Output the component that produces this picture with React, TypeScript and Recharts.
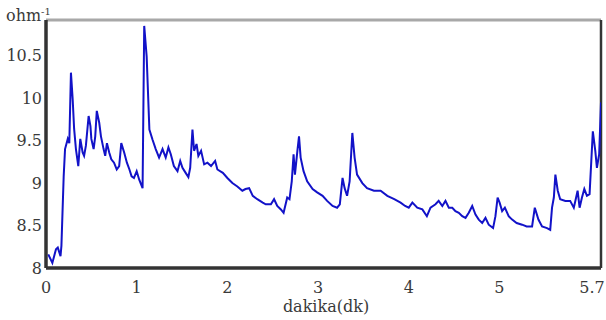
import React from 'react';
import { LineChart, Line, XAxis, YAxis, ReferenceLine } from 'recharts';

// time (dakika) and conductance (ohm^-1)
const timeMin = [
  0.025, 0.07, 0.11, 0.13, 0.16, 0.17, 0.195, 0.21, 0.24, 0.257, 0.275, 0.294, 0.31, 0.33, 0.356, 0.378,
  0.404, 0.42, 0.44, 0.47, 0.49, 0.5, 0.525, 0.543, 0.56, 0.587, 0.606, 0.635, 0.653, 0.672, 0.697, 0.72,
  0.75, 0.78, 0.807, 0.83, 0.862, 0.892, 0.92, 0.944, 0.97, 1.0, 1.028, 1.065, 1.083, 1.11, 1.14, 1.175,
  1.21, 1.247, 1.285, 1.32, 1.35, 1.376, 1.41, 1.45, 1.48, 1.505, 1.54, 1.57, 1.59, 1.615, 1.633, 1.66,
  1.68, 1.71, 1.744, 1.78, 1.82, 1.865, 1.89, 1.95, 2.0, 2.055, 2.11, 2.165, 2.2, 2.24, 2.28, 2.33,
  2.39, 2.423, 2.48, 2.515, 2.55, 2.59, 2.62, 2.66, 2.685, 2.71, 2.73, 2.745, 2.772, 2.79, 2.808, 2.84,
  2.88, 2.94, 2.99, 3.05, 3.1, 3.16, 3.21, 3.24, 3.27, 3.293, 3.32, 3.348, 3.378, 3.403, 3.43, 3.488,
  3.54, 3.616, 3.69, 3.764, 3.84, 3.91, 3.96, 4.0, 4.04, 4.094, 4.15, 4.2, 4.24, 4.295, 4.33, 4.37,
  4.405, 4.442, 4.48, 4.515, 4.552, 4.59, 4.626, 4.662, 4.7, 4.736, 4.772, 4.81, 4.846, 4.882, 4.93, 4.956,
  4.98, 5.002, 5.03, 5.06, 5.102, 5.14, 5.19, 5.25, 5.3, 5.36, 5.39, 5.43, 5.47, 5.525, 5.56, 5.58,
  5.6, 5.617, 5.643, 5.67, 5.727, 5.78, 5.82, 5.837, 5.862, 5.884, 5.91, 5.936, 5.965, 5.994, 6.013, 6.03,
  6.057, 6.075, 6.1, 6.12,
];
const conductance = [
  8.16, 8.06, 8.22, 8.24, 8.14, 8.26, 9.08, 9.4, 9.52, 9.47, 10.3, 9.99, 9.64, 9.4, 9.2, 9.52,
  9.36, 9.32, 9.44, 9.79, 9.67, 9.52, 9.4, 9.55, 9.85, 9.71, 9.55, 9.4, 9.32, 9.47, 9.36, 9.28,
  9.24, 9.16, 9.2, 9.47, 9.36, 9.24, 9.16, 9.08, 9.06, 9.14, 9.04, 8.94, 10.85, 10.49, 9.63, 9.51,
  9.4, 9.3, 9.4, 9.3, 9.42, 9.34, 9.2, 9.14, 9.26, 9.18, 9.12, 9.07, 9.18, 9.63, 9.38, 9.46,
  9.32, 9.38, 9.22, 9.24, 9.2, 9.26, 9.16, 9.12, 9.06, 9.0, 8.96, 8.91, 8.93, 8.94, 8.85, 8.81,
  8.77, 8.75, 8.75, 8.81, 8.73, 8.69, 8.65, 8.83, 8.81, 9.02, 9.34, 9.1, 9.38, 9.55, 9.3, 9.14,
  9.02, 8.93, 8.89, 8.85, 8.79, 8.73, 8.71, 8.75, 9.06, 8.94, 8.85, 9.02, 9.59, 9.3, 9.1, 9.0,
  8.94, 8.91, 8.91, 8.85, 8.81, 8.77, 8.73, 8.71, 8.77, 8.71, 8.69, 8.61, 8.71, 8.75, 8.79, 8.73,
  8.79, 8.71, 8.71, 8.67, 8.65, 8.61, 8.59, 8.65, 8.73, 8.63, 8.57, 8.53, 8.59, 8.51, 8.47, 8.61,
  8.83, 8.77, 8.67, 8.71, 8.61, 8.57, 8.53, 8.51, 8.49, 8.49, 8.71, 8.57, 8.49, 8.47, 8.45, 8.71,
  8.83, 9.1, 8.91, 8.81, 8.79, 8.79, 8.71, 8.79, 8.91, 8.71, 8.83, 8.93, 8.85, 8.87, 9.26, 9.61,
  9.38, 9.18, 9.34, 9.95,
];

const xTickValues = [0, 1, 2, 3, 4, 5, 6.02];
const xTickLabels = ['0', '1', '2', '3', '4', '5', '5.7'];
const yTickValues = [8, 8.5, 9, 9.5, 10, 10.5];
const xMax = 6.12;
const yMin = 8;
const yMax = 10.92;

const data = timeMin.map((t, i) => ({ t, g: conductance[i] }));

const FONT = 'DejaVu Serif';
const TEXT = '#3a3a3a';
const tickStyle = { fontSize: 16, fill: TEXT, fontFamily: FONT };

export default function App() {
  return (
    <div
      style={{
        position: 'absolute',
        left: 0,
        top: 0,
        width: 606,
        height: 320,
        background: '#fff',
      }}
    >
      <LineChart
        width={606}
        height={320}
        data={data}
        margin={{ top: 20, right: 5, left: 0, bottom: 0 }}
      >
        <XAxis
          dataKey="t"
          type="number"
          domain={[0, xMax]}
          ticks={xTickValues}
          tickFormatter={(v: number, i: number) => xTickLabels[i]}
          interval={0}
          height={52}
          tickLine={false}
          tickSize={0}
          tickMargin={14}
          tick={tickStyle}
          axisLine={{ stroke: '#333', strokeWidth: 3.5 }}
          allowDataOverflow
        />
        <YAxis
          type="number"
          domain={[yMin, yMax]}
          ticks={yTickValues}
          interval={0}
          width={46}
          tickLine={false}
          tickSize={0}
          tickMargin={4}
          tick={tickStyle}
          axisLine={{ stroke: '#333', strokeWidth: 3.5 }}
          allowDataOverflow
        />
        <ReferenceLine y={yMax} stroke="#a8a8a8" strokeWidth={3} ifOverflow="visible" />
        <ReferenceLine x={xMax} stroke="#333" strokeWidth={2.5} ifOverflow="visible" />
        <Line
          type="linear"
          dataKey="g"
          stroke="#1212c8"
          strokeWidth={2}
          dot={false}
          isAnimationActive={false}
        />
      </LineChart>
      <svg style={{ position: 'absolute', left: 0, top: 0 }} width={606} height={320} pointerEvents="none">
        <text x={6} y={21} fontSize={16} fill={TEXT} fontFamily={FONT}>
          ohm
          <tspan dy={-6} fontSize={10}>-1</tspan>
        </text>
        <text x={326} y={312} fontSize={16} fill={TEXT} fontFamily={FONT} textAnchor="middle">
          dakika(dk)
        </text>
      </svg>
    </div>
  );
}
